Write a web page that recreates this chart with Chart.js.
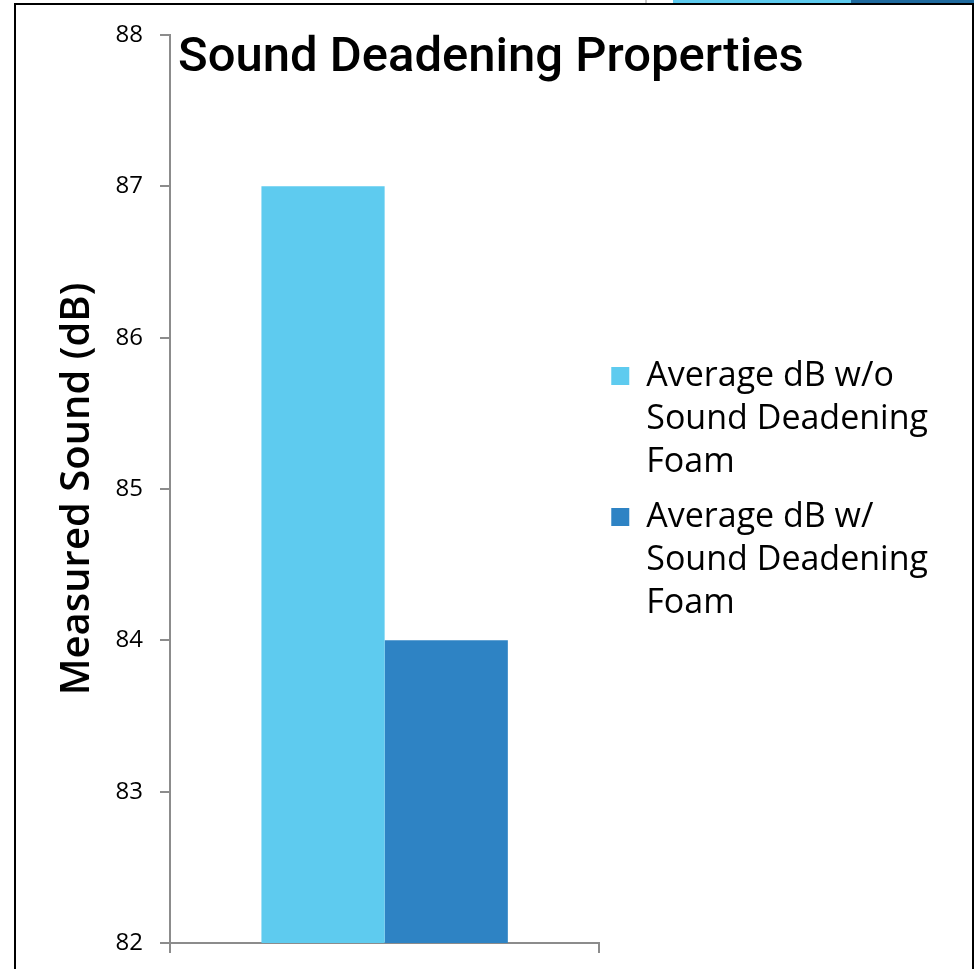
<!DOCTYPE html>
<html>
<head>
<meta charset="utf-8">
<script src="https://cdn.jsdelivr.net/npm/chart.js@4/dist/chart.umd.min.js"></script>
<style>
  html, body { margin: 0; padding: 0; background: #fff; overflow: hidden; }
  #wrap { position: relative; width: 974px; height: 969px; }
  #chart { position: absolute; left: 0; top: 0; }
  /* slide frame + cut-off strip at the very top */
  .frame { position: absolute; left: 14px; top: 3px; width: 956px; height: 990px; border: 2px solid #000; }
  .strip { position: absolute; top: 0; height: 3px; }
</style>
</head>
<body>
<div id="wrap">
  <div class="strip" style="left:645px;width:2px;background:#c8c8c8"></div>
  <div class="strip" style="left:673px;width:178px;background:#5ecbef"></div>
  <div class="strip" style="left:851px;width:123px;background:#1f6a9e"></div>
  <canvas id="chart" width="974" height="969"></canvas>
  <div class="frame"></div>
</div>
<script>
// data
var categories = [''];
var seriesNames = [
  ['Average dB w/o', 'Sound Deadening', 'Foam'],
  ['Average dB w/', 'Sound Deadening', 'Foam']
];
var withoutFoam = [87];
var withFoam = [84];
var seriesColors = ['#5ecbef', '#2e83c4'];
var yMin = 82, yMax = 88, yStep = 1;

var chartTitle = 'Sound Deadening Properties';
var yTitle = 'Measured Sound (dB)';

var axisGray = '#8c8c8c';

// title sits inside the plot, over the top of the axis
var titleInPlot = {
  id: 'titleInPlot',
  afterDraw: function(chart) {
    var ctx = chart.ctx;
    ctx.save();
    ctx.font = '500 49px Roboto';
    ctx.fillStyle = '#000';
    ctx.textBaseline = 'alphabetic';
    ctx.fillText(chartTitle, chart.chartArea.left + 8, 71);
    ctx.restore();
  }
};

var chart = new Chart(document.getElementById('chart'), {
  type: 'bar',
  data: {
    labels: categories,
    datasets: [
      { label: seriesNames[0].join(' '), data: withoutFoam, backgroundColor: seriesColors[0] },
      { label: seriesNames[1].join(' '), data: withFoam, backgroundColor: seriesColors[1] }
    ]
  },
  options: {
    responsive: false,
    devicePixelRatio: 1,
    animation: false,
    categoryPercentage: 0.574,
    barPercentage: 1,
    layout: { padding: { top: 35, bottom: 16, left: 0, right: 36 } },
    plugins: {
      tooltip: { enabled: false },
      title: { display: false },
      legend: {
        position: 'right',
        labels: {
          boxWidth: 18,
          boxHeight: 18,
          padding: 12,
          color: '#000',
          font: { family: 'Open Sans', size: 34, lineHeight: 1.265 },
          generateLabels: function(chart) {
            return chart.data.datasets.map(function(ds, i) {
              return {
                text: seriesNames[i],
                fillStyle: ds.backgroundColor,
                strokeStyle: ds.backgroundColor,
                lineWidth: 0,
                datasetIndex: i,
                hidden: false
              };
            });
          }
        }
      }
    },
    scales: {
      x: {
        afterFit: function(scale) { scale.height = 10; },
        ticks: { display: false },
        grid: { offset: true, drawOnChartArea: false, color: axisGray, lineWidth: 2, tickLength: 10 },
        border: { color: axisGray, width: 2 }
      },
      y: {
        min: yMin,
        max: yMax,
        afterFit: function(scale) {
          scale.width = 170;
          // don't let the tick labels push the plot bottom up
          scale.paddingBottom = 0;
        },
        ticks: { stepSize: yStep, padding: 17, color: '#000', font: { family: 'Open Sans', size: 24 } },
        grid: { drawOnChartArea: false, color: axisGray, lineWidth: 2, tickLength: 10 },
        border: { color: axisGray, width: 2 },
        title: {
          display: true,
          text: yTitle,
          color: '#000',
          padding: { top: 54, bottom: 0 },
          font: { family: 'Open Sans', size: 40, weight: '600' }
        }
      }
    }
  },
  plugins: [titleInPlot]
});

// the right-hand legend is wider than chart.js lets a side box be
// (half the width split over the side boxes), so lift that cap
var legendFit = chart.legend.fit;
chart.legend.fit = function() {
  this.maxWidth = 500;
  legendFit.call(this);
};
chart.update();
</script>
</body>
</html>
